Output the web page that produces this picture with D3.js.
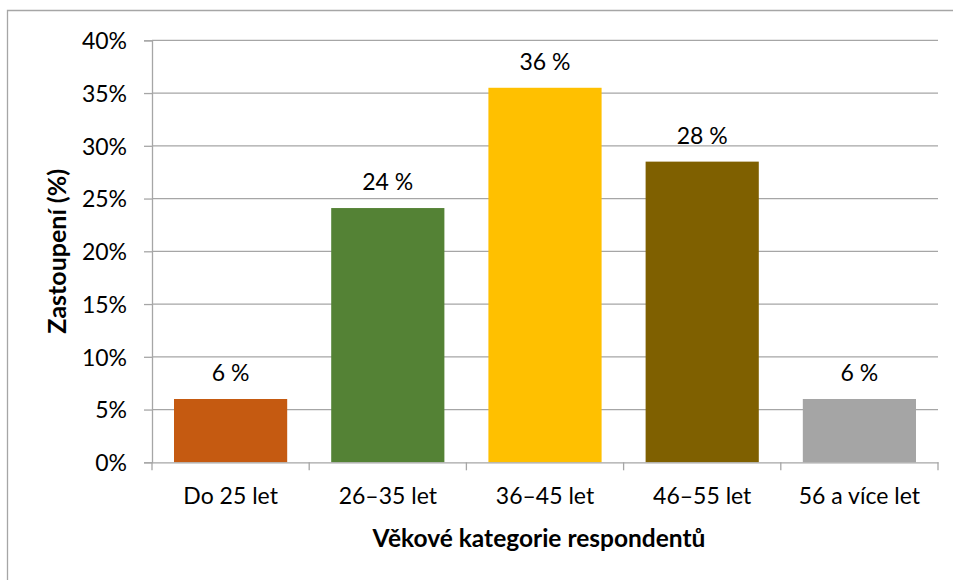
<!DOCTYPE html>
<html><head><meta charset="utf-8">
<script src="https://cdn.jsdelivr.net/npm/d3@7"></script>
<style>body{margin:0;background:#fff}svg{display:block}text{font-family:Lato,"Open Sans",sans-serif;fill:#000}</style>
</head><body><svg id="c" width="953" height="580"></svg>
<script>
const categories = ["Do 25 let", "26–35 let", "36–45 let", "46–55 let", "56 a více let"];
const values = [6.0, 24.1, 35.5, 28.5, 6.0];
const valueLabels = ["6 %", "24 %", "36 %", "28 %", "6 %"];
const colors = ["#C55A11", "#548235", "#FFC000", "#7F6000", "#A5A5A5"];
const yTicks = [0, 5, 10, 15, 20, 25, 30, 35, 40];
const xTitle = "Věkové kategorie respondentů";
const yTitle = "Zastoupení (%)";

const svg = d3.select("#c");
const m = {left:152, right:938, top:40.3, bottom:462.3};
const x = d3.scaleBand().domain(categories).range([m.left, m.right]).paddingInner(0.28).paddingOuter(0.14);
const y = d3.scaleLinear().domain([0, 40]).range([m.bottom, m.top]);
const grey = "#A6A6A6";

// outer frame (left and top visible)
svg.append("path").attr("d", "M7.5,580 V10.5 H953").attr("fill","none").attr("stroke", grey).attr("stroke-width",1.3);

// gridlines
svg.append("g").selectAll("line").data(yTicks.filter(d=>d>0)).join("line")
  .attr("x1", m.left).attr("x2", m.right).attr("y1", d=>y(d)).attr("y2", d=>y(d))
  .attr("stroke", grey).attr("stroke-width", 1.3);

// y axis
const yAxis = svg.append("g").attr("transform", `translate(${m.left},0)`)
  .call(d3.axisLeft(y).tickValues(yTicks).tickFormat(d=>d+"%").tickSize(8).tickPadding(17));
yAxis.select(".domain").attr("stroke", grey).attr("stroke-width",1.3);
yAxis.selectAll(".tick line").attr("stroke", grey).attr("stroke-width",1.3);
yAxis.selectAll("text").attr("font-size", 23).attr("font-family","Lato,sans-serif").attr("dy","0.36em");

// bars
svg.append("g").selectAll("rect").data(values).join("rect")
  .attr("x", (d,i)=>x(categories[i])).attr("width", x.bandwidth())
  .attr("y", d=>y(d)).attr("height", d=>y(0)-y(d))
  .attr("fill", (d,i)=>colors[i]);

// x axis
const xAxis = svg.append("g").attr("transform", `translate(0,${m.bottom})`)
  .call(d3.axisBottom(x).tickSize(0).tickPadding(25));
xAxis.select(".domain").attr("stroke", grey).attr("stroke-width",1.3);
xAxis.selectAll("text").attr("font-size", 23).attr("font-family","Lato,sans-serif").attr("dy","0.71em");
const bounds = [m.left].concat(categories.map(c=>x(c)+x.bandwidth()+x.step()*x.paddingInner()/2));
bounds[bounds.length-1] = m.right;
svg.append("g").selectAll("line").data(bounds).join("line")
  .attr("x1", d=>d).attr("x2", d=>d).attr("y1", m.bottom).attr("y2", m.bottom+8)
  .attr("stroke", grey).attr("stroke-width",1.3);

// value labels
svg.append("g").selectAll("text").data(values).join("text")
  .attr("x", (d,i)=>x(categories[i])+x.bandwidth()/2).attr("y", d=>y(d)-18)
  .attr("text-anchor","middle").attr("font-size",23).text((d,i)=>valueLabels[i]);

// axis titles
svg.append("text").attr("x", 539).attr("y", 547).attr("text-anchor","middle")
  .attr("font-size",24.5).attr("font-weight","bold").text(xTitle);
svg.append("text").attr("transform", `translate(66,${(m.top+m.bottom)/2}) rotate(-90)`).attr("text-anchor","middle")
  .attr("font-size",25).attr("font-weight","bold").text(yTitle);
</script></body></html>
